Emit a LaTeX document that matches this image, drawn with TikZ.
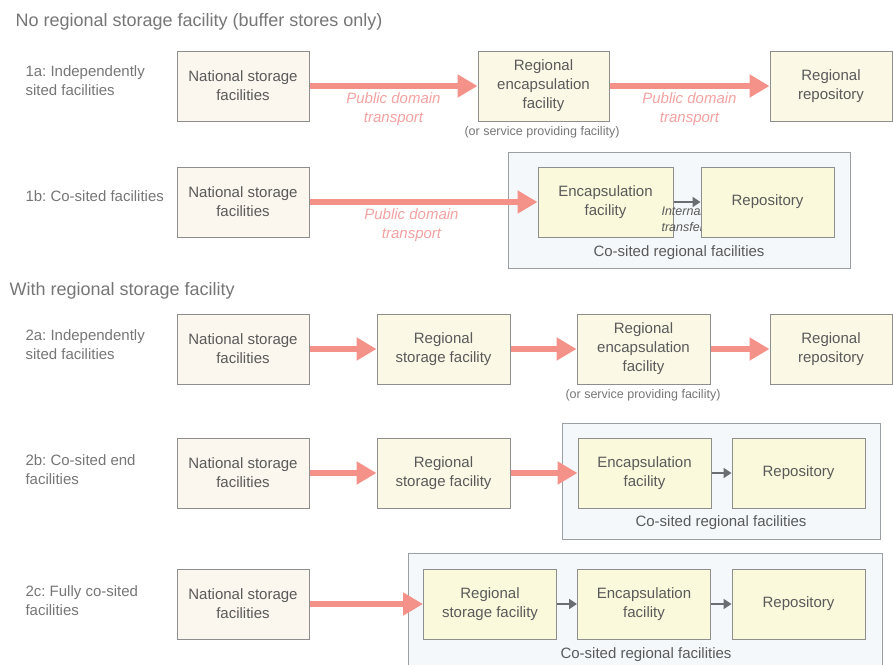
\documentclass[tikz,border=0pt]{standalone}
\usepackage{fontspec}
\setmainfont{Liberation Sans}
\usetikzlibrary{arrows.meta,positioning}
\frenchspacing

\definecolor{ink}{HTML}{5A5A5A}
\definecolor{labelgray}{HTML}{767676}
\definecolor{boxline}{HTML}{8E8E8E}
\definecolor{natfill}{HTML}{FBF6EE}
\definecolor{cream}{HTML}{FBF8E6}
\definecolor{encfill}{HTML}{FAF9DC}
\definecolor{sitefill}{HTML}{F4F8FB}
\definecolor{siteline}{HTML}{9A9FA3}
\definecolor{pipepink}{HTML}{F4928A}
\definecolor{pinktext}{HTML}{F2A2A0}
\definecolor{arrowgray}{HTML}{6A6E72}

\begin{document}
\begin{tikzpicture}[x=1pt,y=-1pt,font=\fontsize{15}{19}\selectfont,text=ink,
  box/.style={draw=boxline, line width=1pt, fill=cream, minimum width=133pt, minimum height=70pt, align=center, inner sep=2pt},
  natbox/.style={box, fill=natfill, minimum width=132pt},
  encbox/.style={box, fill=encfill},
  site/.style={draw=siteline, line width=1pt, fill=sitefill},
  pipe/.style={draw=pipepink, line width=5.5pt, -{Triangle[length=20pt,width=22pt]}},
  transfer/.style={draw=arrowgray, line width=2.5pt, -{Triangle[length=8pt,width=10pt]}},
  heading/.style={anchor=west, text=labelgray, font=\fontsize{18}{22}\selectfont},
  rowlabel/.style={anchor=west, align=left, text=labelgray},
  pdt/.style={below, align=center, text=pinktext, font=\fontsize{15}{19}\selectfont\itshape, yshift=-1pt},
  note/.style={text=labelgray, font=\fontsize{12.5}{15}\selectfont},
  sitelabel/.style={text=ink},
]
\useasboundingbox (0,0) rectangle (893,664);

% ---- without regional storage ----
\node[heading] (head1) at (12,22) {No regional storage facility (buffer stores only)};

% 1a
\node[rowlabel] (lab1a) at (22,81) {1a: Independently\\sited facilities};
\node[natbox] (nat1a) at (243,86) {National storage\\facilities};
\node[box, minimum width=131pt] (enc1a) at (543.5,86) {Regional\\encapsulation\\facility};
\node[note] (note1a) at (542,132) {(or service providing facility)};
\node[box, minimum width=122pt] (rep1a) at (831,86) {Regional\\repository};

\draw[pipe] (nat1a.east) -- node[pdt] {Public domain\\transport} (enc1a.west);
\draw[pipe] (enc1a.east) -- node[pdt] {Public domain\\transport} (rep1a.west);

% 1b
\node[rowlabel] (lab1b) at (22,196) {1b: Co-sited facilities};
\draw[site] (508,152) rectangle (850,268);
\node[natbox] (nat1b) at (243,202) {National storage\\facilities};
\node[encbox, minimum width=135pt] (enc1b) at (605.5,202) {Encapsulation\\facility};
\node[anchor=west, align=left, text=ink, font=\fontsize{12.5}{16}\selectfont\itshape] (int1b) at (658,219) {Internal\\transfer};
\node[encbox] (rep1b) at (767.5,202) {Repository};
\node[sitelabel] (site1b) at (679,253) {Co-sited regional facilities};

\draw[pipe] (nat1b.east) -- node[pdt, xshift=-12pt] {Public domain\\transport} (enc1b.west);
\draw[transfer] (enc1b.east) -- (rep1b.west);

% ---- with regional storage ----
\node[heading] (head2) at (6,291) {With regional storage facility};

% 2a
\node[rowlabel] (lab2a) at (22,345) {2a: Independently\\sited facilities};
\node[natbox] (nat2a) at (243,349) {National storage\\facilities};
\node[box] (sto2a) at (443.5,349) {Regional\\storage facility};
\node[box] (enc2a) at (643.5,349) {Regional\\encapsulation\\facility};
\node[note] (note2a) at (643,395) {(or service providing facility)};
\node[box, minimum width=122pt] (rep2a) at (831,349) {Regional\\repository};

\draw[pipe] (nat2a.east) -- (sto2a.west);
\draw[pipe] (sto2a.east) -- (enc2a.west);
\draw[pipe] (enc2a.east) -- (rep2a.west);

% 2b
\node[rowlabel] (lab2b) at (22,470) {2b: Co-sited end\\facilities};
\draw[site] (562,423) rectangle (880,539);
\node[natbox] (nat2b) at (243,473) {National storage\\facilities};
\node[box] (sto2b) at (443.5,473) {Regional\\storage facility};
\node[encbox] (enc2b) at (644.5,473) {Encapsulation\\facility};
\node[encbox] (rep2b) at (798.5,473) {Repository};
\node[sitelabel] (site2b) at (721,523) {Co-sited regional facilities};

\draw[pipe] (nat2b.east) -- (sto2b.west);
\draw[pipe] (sto2b.east) -- (enc2b.west);
\draw[transfer] (enc2b.east) -- (rep2b.west);

% 2c
\node[rowlabel] (lab2c) at (22,601) {2c: Fully co-sited\\facilities};
\draw[site] (408,553) rectangle (882,690);
\node[natbox] (nat2c) at (243,604) {National storage\\facilities};
\node[encbox] (sto2c) at (490,604) {Regional\\storage facility};
\node[encbox] (enc2c) at (644,604) {Encapsulation\\facility};
\node[encbox] (rep2c) at (798.5,604) {Repository};
\node[sitelabel] (site2c) at (646,655) {Co-sited regional facilities};

\draw[pipe] (nat2c.east) -- (sto2c.west);
\draw[transfer] (sto2c.east) -- (enc2c.west);
\draw[transfer] (enc2c.east) -- (rep2c.west);

\end{tikzpicture}
\end{document}
